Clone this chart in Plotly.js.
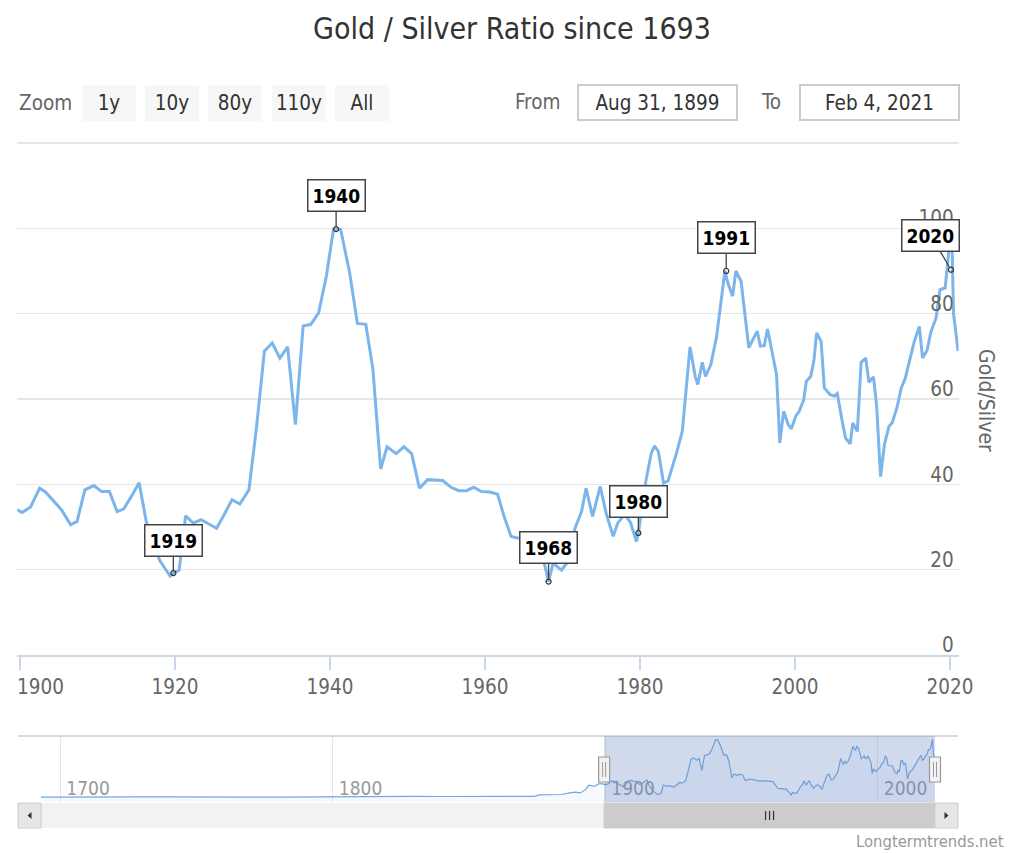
<!DOCTYPE html>
<html>
<head>
<meta charset="utf-8">
<script src="https://cdn.plot.ly/plotly-3.0.1.min.js"></script>
<style>html,body{margin:0;padding:0;background:#fff;}#chart{width:1024px;height:853px;}</style>
</head>
<body>
<div id="chart"></div>
<script>
// ---- Data ----
const mainDates = ['1899-06','1900-04','1901-05','1902-07','1903-04','1904-05','1905-05','1906-07','1907-05','1908-05',
'1909-07','1910-07','1911-07','1912-07','1913-05','1914-06','1915-05','1916-04','1918-01','1919-05','1919-10','1920-07',
'1921-05','1922-05','1923-05','1924-05','1925-05','1926-05','1927-05','1928-05','1929-07','1930-07','1931-07','1932-07',
'1933-07','1934-07','1935-07','1936-07','1937-07','1938-07','1939-07','1940-06','1941-05','1942-07','1943-07','1944-08',
'1945-07','1946-07','1947-05','1948-07','1949-07','1950-07','1951-07','1952-08','1953-07','1954-07','1955-08','1956-08',
'1957-08','1958-07','1959-07','1960-08','1961-08','1962-06','1963-05','1964-04','1965-05','1966-06','1967-09','1968-03',
'1968-10','1969-11','1970-07','1971-08','1972-06','1973-01','1973-11','1974-11','1975-08','1976-07','1977-02','1978-01',
'1978-10','1979-07','1979-10','1980-10','1981-06','1981-11','1982-05','1983-01','1983-08','1984-09','1985-06','1986-06',
'1987-02','1987-06','1988-01','1988-06','1989-02','1989-11','1990-12','1991-05','1991-12','1992-05','1993-01','1994-01',
'1995-02','1995-07','1996-01','1996-06','1997-01','1997-08','1998-01','1998-07','1999-02','1999-07','2000-02','2000-07',
'2001-02','2001-06','2002-01','2002-06','2002-10','2003-05','2003-10','2004-07','2005-01','2005-06','2006-02','2006-07',
'2007-02','2007-06','2008-01','2008-07','2009-02','2009-07','2010-02','2010-07','2011-01','2011-07','2012-02','2012-07',
'2013-03','2013-09','2014-03','2014-11','2015-05','2016-01','2016-06','2017-01','2017-07','2018-03','2018-09','2019-05',
'2019-10','2020-03','2020-06','2021-01'];
const mainValues = [34.2,33.4,34.7,39.1,38.2,36.0,34.0,30.5,31.3,38.7,
39.7,38.3,38.3,33.6,34.2,37.4,40.4,31.3,22.1,18.5,19.2,19.9,
32.6,30.9,31.7,30.7,29.7,33.0,36.4,35.4,38.7,53.6,71.2,73.1,
69.6,72.2,54.0,77.1,77.5,80.2,88.8,99.8,99.8,89.6,77.7,77.5,
67.0,43.6,48.8,47.2,48.8,47.2,39.1,41.1,41.0,40.9,39.3,38.5,
38.5,39.3,38.3,38.2,37.7,32.5,27.8,27.4,27.0,26.5,21.1,17.2,
21.5,19.9,21.5,29.7,33.6,39.1,32.5,39.5,33.3,27.8,30.9,33.0,
31.0,26.6,28.6,41.1,47.3,49.0,47.7,40.3,40.8,47.3,52.4,72.2,
65.3,63.4,68.6,65.3,68.0,74.5,90.0,87.0,84.1,90.0,87.6,72.0,
75.9,72.4,72.5,76.4,71.0,65.7,49.7,57.1,54.0,53.0,56.1,57.1,
59.8,64.1,65.3,69.2,75.5,73.5,62.6,61.0,60.7,61.3,54.4,50.8,
49.5,54.4,52.4,68.6,69.6,63.9,65.2,58.3,41.8,49.3,53.6,54.4,
58.3,62.6,64.7,70.0,73.3,77.0,69.6,71.4,75.7,79.0,85.6,86.0,
93.5,101.0,80.0,71.2];

// Early history (only visible in the navigator)
const earlyDates = ['1693','1700','1710','1720','1730','1740','1750','1760','1770','1780','1790','1800','1810','1820',
'1830','1840','1850','1860','1865','1870','1874','1876','1880','1884','1887','1889','1891','1892','1893','1894','1896','1898'];
const earlyValues = [14.8,15.0,15.3,15.0,15.1,15.0,14.5,14.2,14.6,14.7,15.0,15.7,15.8,15.6,
15.8,15.6,15.7,15.3,15.4,15.6,15.9,17.9,18.0,18.6,21.1,22.0,20.9,23.7,26.5,32.6,30.6,35.0];

// Flags
const flagLabels = ['1919','1940','1968','1980','1991','2020'];
const flagDates  = ['1919-10','1940-10','1968-03','1979-10','1991-02','2020-02'];
const flagValues = [19.2,99.8,17.2,28.6,90.0,90.3];

const xTickYears = ['1900','1920','1940','1960','1980','2000','2020'];
const yTickValues = [0,20,40,60,80,100,120];
const navTickYears = ['1700','1800','1900','2000'];
const zoomButtons = ['1y','10y','80y','110y','All'];
const navStart = '1693-01-01';
const rangeFrom = '1899-08-31', rangeTo = '2021-02-04';
const rangeFromText = 'Aug 31, 1899', rangeToText = 'Feb 4, 2021';

// ---- helpers (pixel -> paper) ----
const W = 1024, H = 853;
const px = x => x / W;
const py = y => 1 - y / H;
const FONT = 'DejaVu Sans Condensed, DejaVu Sans, sans-serif';
const pathP = pts => 'M ' + pts.map(p => px(p[0]) + ',' + py(p[1])).join(' L ') + ' Z';
const toDate = s => s.length === 4 ? s + '-01-01' : (s.length === 7 ? s + '-15' : s);

const navDates = earlyDates.concat(mainDates).map(toDate);
const navValues = earlyValues.concat(mainValues);

// navigator x domain (pixels) and helper to place handles in paper space
const NAV_L = 41, NAV_R = 935;
const navPx = d => {
  const t0 = Date.parse(navStart), t1 = Date.parse(rangeTo), t = Date.parse(d);
  return NAV_L + (t - t0) / (t1 - t0) * (NAV_R - NAV_L);
};

const traces = [
  { x: mainDates.map(toDate), y: mainValues, type: 'scatter', mode: 'lines',
    line: { color: '#7cb5ec', width: 3 }, xaxis: 'x', yaxis: 'y', hoverinfo: 'skip' },
  { x: flagDates.map(toDate), y: flagValues, type: 'scatter', mode: 'markers',
    marker: { symbol: 'circle-open', size: 5, color: '#333', line: { width: 1.2, color: '#333' } },
    xaxis: 'x', yaxis: 'y', hoverinfo: 'skip' },
  { x: navDates, y: navValues, type: 'scatter', mode: 'lines', fill: 'tozeroy',
    fillcolor: 'rgba(124,181,236,0.07)', line: { color: '#6fa8e3', width: 1.2 },
    xaxis: 'x2', yaxis: 'y2', hoverinfo: 'skip' }
];

const annotations = [];
const P = (x, y, extra) => Object.assign({ x: px(x), y: py(y), xref: 'paper', yref: 'paper',
  xanchor: 'center', yanchor: 'middle', showarrow: false }, extra);
// flag labels
const flagOffsets = [[0,-33],[0,-34],[0,-34],[0,-31],[0,-33],[-20,-34]];
flagLabels.forEach((t, i) => {
  annotations.push({ x: toDate(flagDates[i]), y: flagValues[i], xref: 'x', yref: 'y', text: t,
    showarrow: true, arrowhead: 0, arrowwidth: 1.3, arrowcolor: '#444', standoff: 2,
    ax: flagOffsets[i][0], ay: flagOffsets[i][1],
    font: { family: FONT, size: 19, color: '#000', weight: 'bold' },
    bgcolor: '#ffffff', bordercolor: '#444', borderwidth: 1.5, borderpad: 4 });
});
// y axis title (rotated like the reference)
annotations.push(P(986, 400, { text: 'Gold/Silver', textangle: 90, font: { family: FONT, size: 21, color: '#666' } }));
// zoom bar
annotations.push(P(17, 103, { xanchor: 'left', text: 'Zoom', font: { family: FONT, size: 20.5, color: '#666' } }));
const btnCenters = [109, 172, 235, 299, 362];
zoomButtons.forEach((b, i) => {
  annotations.push(P(btnCenters[i], 103, { text: b, width: 54, height: 36, bgcolor: '#f7f7f7', borderpad: 0,
    borderwidth: 0, font: { family: FONT, size: 20.5, color: '#333' } }));
});
annotations.push(P(538, 102, { text: 'From', font: { family: FONT, size: 20.5, color: '#666' } }));
annotations.push(P(771, 102, { text: 'To', font: { family: FONT, size: 20.5, color: '#666' } }));
annotations.push(P(657.5, 103, { text: rangeFromText, width: 157, height: 33, borderpad: 0, bordercolor: '#cccccc',
  borderwidth: 2, bgcolor: '#fff', font: { family: FONT, size: 20.5, color: '#333' } }));
annotations.push(P(879.5, 103, { text: rangeToText, width: 157, height: 33, borderpad: 0, bordercolor: '#cccccc',
  borderwidth: 2, bgcolor: '#fff', font: { family: FONT, size: 20.5, color: '#333' } }));
// watermark
annotations.push(P(1006, 841, { xanchor: 'right', text: 'Longtermtrends.net', font: { family: FONT, size: 16.5, color: '#999' } }));

const shapes = [
  // navigator top outline
  { type: 'line', xref: 'paper', yref: 'paper', x0: px(18), x1: px(958), y0: py(736), y1: py(736),
    line: { color: '#cccccc', width: 1.5 } },
  // navigator mask over the selected range
  { type: 'rect', xref: 'x2', yref: 'paper', x0: rangeFrom, x1: rangeTo, y0: py(802), y1: py(736),
    fillcolor: 'rgba(102,133,194,0.3)', line: { width: 0 }, layer: 'above' },
  // scrollbar track
  { type: 'rect', xref: 'paper', yref: 'paper', x0: px(41), x1: px(935), y0: py(828), y1: py(803),
    fillcolor: '#f2f2f2', line: { width: 0 } },
  // scrollbar thumb
  { type: 'rect', xref: 'paper', yref: 'paper', x0: px(navPx(rangeFrom)), x1: px(navPx(rangeTo)), y0: py(828), y1: py(803),
    fillcolor: '#cccccc', line: { color: '#cccccc', width: 1 } },
  // scrollbar buttons
  { type: 'rect', xref: 'paper', yref: 'paper', x0: px(18), x1: px(41), y0: py(828), y1: py(803),
    fillcolor: '#e6e6e6', line: { color: '#cccccc', width: 1 } },
  { type: 'rect', xref: 'paper', yref: 'paper', x0: px(935), x1: px(958), y0: py(828), y1: py(803),
    fillcolor: '#e6e6e6', line: { color: '#cccccc', width: 1 } },
  { type: 'path', xref: 'paper', yref: 'paper', path: pathP([[27.5,815.5],[31.5,812],[31.5,819]]),
    fillcolor: '#333', line: { width: 0 } },
  { type: 'path', xref: 'paper', yref: 'paper', path: pathP([[948.5,815.5],[944.5,812],[944.5,819]]),
    fillcolor: '#333', line: { width: 0 } }
];
// thumb grip
const gripC = (navPx(rangeFrom) + navPx(rangeTo)) / 2;
[-4, 0, 4].forEach(o => shapes.push({ type: 'line', xref: 'paper', yref: 'paper', x0: px(gripC + o), x1: px(gripC + o),
  y0: py(811), y1: py(820), line: { color: '#333', width: 1.2 } }));
// navigator handles
[rangeFrom, rangeTo].forEach(d => {
  const hx = navPx(d);
  shapes.push({ type: 'rect', xref: 'paper', yref: 'paper', x0: px(hx - 5.5), x1: px(hx + 5.5),
    y0: py(782), y1: py(757), fillcolor: '#f2f2f2', line: { color: '#999999', width: 1.2 }, layer: 'above' });
  [-1.5, 1.5].forEach(o => shapes.push({ type: 'line', xref: 'paper', yref: 'paper', x0: px(hx + o), x1: px(hx + o),
    y0: py(777), y1: py(762), line: { color: '#999999', width: 1 }, layer: 'above' }));
});

// right-aligned y tick labels (padded with figure spaces)
const FS = '\u2007';
const yTickText = yTickValues.map(v => v === 120 ? '' : FS.repeat(3 - String(v).length) + String(v));
// first x label is pushed right so it stays inside the chart (as in the reference)
const xTickText = xTickYears.map((t, i) => i === 0 ? FS + FS + FS + '\u2008' + t : t);

const layout = {
  width: W, height: H,
  margin: { l: 0, r: 0, t: 0, b: 0 },
  paper_bgcolor: '#fff', plot_bgcolor: 'rgba(0,0,0,0)',
  showlegend: false, hovermode: false,
  font: { family: FONT, color: '#666' },
  title: { text: 'Gold / Silver Ratio since 1693', x: 0.5, xanchor: 'center', y: py(28), yanchor: 'middle',
    font: { family: FONT, size: 30, color: '#333' } },
  xaxis: {
    type: 'date', domain: [px(17.4), px(958.5)], range: [rangeFrom, rangeTo], anchor: 'y',
    showgrid: false, zeroline: false, showline: true, linecolor: '#ccd6eb', linewidth: 1.5,
    ticks: 'outside', ticklen: 13, tickwidth: 1.5, tickcolor: '#ccd6eb',
    tickvals: xTickYears.map(toDate), ticktext: xTickText, ticklabeloverflow: 'allow',
    tickfont: { family: FONT, size: 20.5, color: '#666' }, fixedrange: true
  },
  yaxis: {
    domain: [py(655), py(140.4)], range: [0, 120.6], anchor: 'x', side: 'right',
    showgrid: true, gridcolor: '#e6e6e6', gridwidth: 1.5, zeroline: false, showline: false,
    tickvals: yTickValues, ticktext: yTickText, ticklabeloverflow: 'allow',
    ticks: '', ticklabelshift: -10, ticklabelstandoff: -41,
    tickfont: { family: FONT, size: 20.5, color: '#666' }, fixedrange: true
  },
  xaxis2: {
    type: 'date', domain: [px(NAV_L), px(NAV_R)], range: [navStart, rangeTo], anchor: 'y2',
    showgrid: true, gridcolor: '#e6e6e6', gridwidth: 1, zeroline: false, showline: false, ticks: '',
    tickvals: navTickYears.map(toDate), ticktext: navTickYears,
    ticklabelposition: 'inside', ticklabelshift: 28, ticklabelstandoff: 0,
    tickfont: { family: FONT, size: 19, color: '#999' }, fixedrange: true
  },
  yaxis2: {
    domain: [py(802), py(736)], range: [7.4, 105.7], anchor: 'x2',
    visible: false, showgrid: false, zeroline: false, fixedrange: true
  },
  annotations: annotations,
  shapes: shapes
};

Plotly.newPlot('chart', traces, layout, { displayModeBar: false, staticPlot: true });
</script>
</body>
</html>
